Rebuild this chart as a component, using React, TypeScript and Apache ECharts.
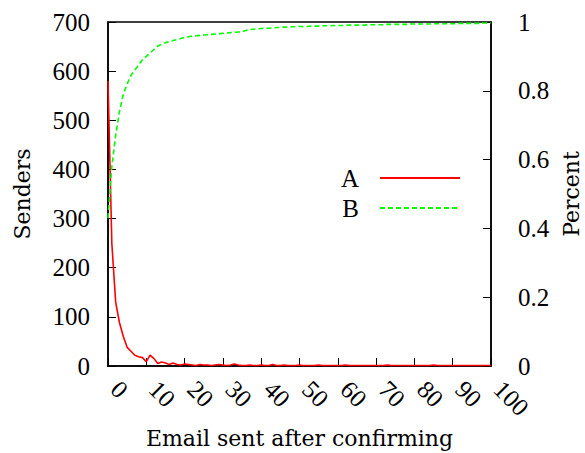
import React, { useEffect, useRef } from "react";
import * as echarts from "echarts";

const xValues: number[] = Array.from({ length: 101 }, (_, i) => i);

const sendersA: number[] = [
  580, 250, 130, 88, 60, 38, 30, 22, 19, 17,
  9, 22, 15, 5, 8, 6, 3, 6, 3, 2,
  4, 3, 2, 1, 3, 2, 2, 1, 2, 3,
  2, 1, 2, 4, 2, 1, 1, 2, 1, 1,
  2, 1, 1, 3, 1, 1, 2, 1, 1, 1,
  2, 1, 1, 1, 1, 2, 1, 1, 1, 1,
  1, 1, 2, 1, 1, 1, 1, 1, 1, 1,
  1, 1, 1, 2, 1, 1, 1, 1, 1, 1,
  1, 1, 1, 1, 1, 2, 1, 1, 1, 1,
  1, 1, 1, 1, 1, 1, 1, 1, 1, 1,
  1,
];

const percentB: number[] = [
  0.43, 0.58, 0.67, 0.74, 0.79, 0.82, 0.845, 0.86, 0.875, 0.89,
  0.9, 0.91, 0.92, 0.93, 0.935, 0.94, 0.943, 0.946, 0.949, 0.952,
  0.955, 0.957, 0.959, 0.96, 0.961, 0.962, 0.963, 0.964, 0.965, 0.966,
  0.967, 0.968, 0.969, 0.97, 0.971, 0.972, 0.975, 0.978, 0.979, 0.98,
  0.981, 0.982, 0.982, 0.983, 0.984, 0.984, 0.985, 0.985, 0.986, 0.986,
  0.987, 0.987, 0.987, 0.988, 0.988, 0.988, 0.989, 0.989, 0.989, 0.99,
  0.99, 0.99, 0.99, 0.991, 0.991, 0.991, 0.991, 0.991, 0.992, 0.992,
  0.992, 0.992, 0.992, 0.993, 0.993, 0.993, 0.993, 0.993, 0.993, 0.994,
  0.994, 0.994, 0.994, 0.994, 0.994, 0.995, 0.995, 0.995, 0.995, 0.995,
  0.995, 0.995, 0.996, 0.996, 0.996, 0.996, 0.996, 0.996, 0.997, 0.997,
  0.997,
];

const seriesNames = ["A", "B"];
const xTitle = "Email sent after confirming";
const yLeftTitle = "Senders";
const yRightTitle = "Percent";

const NUM_FONT = "Liberation Serif";
const TITLE_FONT = "DejaVu Serif";

export default function App() {
  const ref = useRef<HTMLDivElement>(null);
  useEffect(() => {
    if (!ref.current) return;
    const chart = echarts.init(ref.current, undefined, { renderer: "svg" });
    const numStyle = { fontFamily: NUM_FONT, fontSize: 25, color: "#000" };
    const titleStyle = { fontFamily: TITLE_FONT, fontSize: 22, color: "#000" };
    chart.setOption({
      animation: false,
      textStyle: { fontFamily: NUM_FONT },
      grid: {
        left: 108,
        right: 94,
        top: 22,
        bottom: 87,
        containLabel: false,
        outerBoundsMode: "none",
        show: true,
        borderColor: "#000",
        borderWidth: 1.5,
        backgroundColor: "transparent",
      },
      legend: {
        orient: "vertical",
        left: 336,
        top: 158,
        align: "right",
        itemWidth: 80,
        itemHeight: 14,
        itemGap: 0,
        itemStyle: { opacity: 0 },
        textStyle: { ...numStyle, lineHeight: 30, padding: [0, 16, 0, 0] },
        data: seriesNames,
      },
      xAxis: {
        type: "value",
        min: 0,
        max: 100,
        interval: 10,
        name: xTitle,
        nameLocation: "middle",
        nameGap: 61,
        nameTextStyle: titleStyle,
        axisLine: { show: true, lineStyle: { color: "#000", width: 1.5 } },
        axisTick: { show: true, inside: true, length: 8, lineStyle: { color: "#000" } },
        axisLabel: { ...numStyle, rotate: -45, margin: 12, padding: [0, 0, 0, 10] },
        splitLine: { show: false },
      },
      yAxis: [
        {
          type: "value",
          min: 0,
          max: 700,
          interval: 100,
          position: "left",
          name: yLeftTitle,
          nameLocation: "middle",
          nameRotate: 90,
          nameGap: 75,
          nameTextStyle: titleStyle,
          axisLine: { show: true, lineStyle: { color: "#000", width: 1.5 } },
          axisTick: { show: true, inside: true, length: 8, lineStyle: { color: "#000" } },
          axisLabel: { ...numStyle, margin: 18 },
          splitLine: { show: false },
        },
        {
          type: "value",
          min: 0,
          max: 1,
          interval: 0.2,
          position: "right",
          name: yRightTitle,
          nameLocation: "middle",
          nameRotate: 90,
          nameGap: 69,
          nameTextStyle: titleStyle,
          axisLine: { show: true, lineStyle: { color: "#000", width: 1.5 } },
          axisTick: { show: true, inside: true, length: 8, lineStyle: { color: "#000" } },
          axisLabel: { ...numStyle, margin: 27 },
          splitLine: { show: false },
        },
      ],
      series: [
        {
          name: seriesNames[0],
          type: "line",
          yAxisIndex: 0,
          symbol: "none",
          color: "#ff0000",
          lineStyle: { color: "#ff0000", width: 1.6 },
          data: xValues.map((x, i) => [x, sendersA[i]]),
        },
        {
          name: seriesNames[1],
          type: "line",
          yAxisIndex: 1,
          symbol: "none",
          color: "#00ff00",
          lineStyle: { color: "#00ff00", width: 1.6, type: [5, 3] },
          data: xValues.map((x, i) => [x, percentB[i]]),
        },
      ],
    });
    return () => chart.dispose();
  }, []);
  return (
    <div
      ref={ref}
      style={{ position: "absolute", left: 0, top: 0, width: 585, height: 453 }}
    />
  );
}
